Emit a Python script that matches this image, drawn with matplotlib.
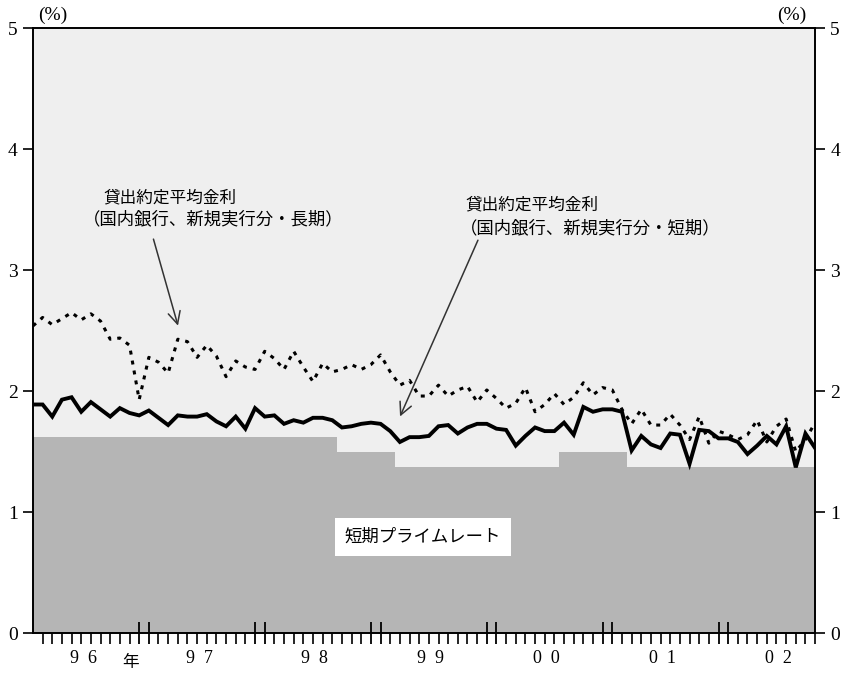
import numpy as np
import matplotlib.pyplot as plt

# monthly data, Jan 1996 - Oct 2002
long_rate = [2.54, 2.61, 2.55, 2.60, 2.65, 2.59, 2.64, 2.58, 2.43, 2.44, 2.38, 1.93,
             2.28, 2.24, 2.15, 2.43, 2.41, 2.28, 2.38, 2.29, 2.12, 2.25, 2.20, 2.18,
             2.33, 2.27, 2.18, 2.33, 2.20, 2.08, 2.23, 2.16, 2.18, 2.22, 2.18, 2.22,
             2.30, 2.16, 2.05, 2.09, 1.96, 1.96, 2.05, 1.96, 2.01, 2.04, 1.91, 2.01,
             1.94, 1.86, 1.90, 2.03, 1.83, 1.89, 1.98, 1.89, 1.95, 2.07, 1.97, 2.03,
             2.01, 1.85, 1.73, 1.85, 1.72, 1.72, 1.81, 1.72, 1.60, 1.79, 1.57, 1.67,
             1.64, 1.60, 1.64, 1.76, 1.58, 1.71, 1.77, 1.50, 1.60, 1.74]
short_rate = [1.89, 1.89, 1.79, 1.93, 1.95, 1.83, 1.91, 1.85, 1.79, 1.86, 1.82, 1.80,
              1.84, 1.78, 1.72, 1.80, 1.79, 1.79, 1.81, 1.75, 1.71, 1.79, 1.69, 1.86,
              1.79, 1.80, 1.73, 1.76, 1.74, 1.78, 1.78, 1.76, 1.70, 1.71, 1.73, 1.74,
              1.73, 1.67, 1.58, 1.62, 1.62, 1.63, 1.71, 1.72, 1.65, 1.70, 1.73, 1.73,
              1.69, 1.68, 1.55, 1.63, 1.70, 1.67, 1.67, 1.74, 1.64, 1.87, 1.83, 1.85,
              1.85, 1.83, 1.51, 1.63, 1.56, 1.53, 1.65, 1.64, 1.40, 1.68, 1.67, 1.61,
              1.61, 1.58, 1.48, 1.55, 1.63, 1.56, 1.71, 1.37, 1.65, 1.53]
prime_rate = [1.625] * 32 + [1.5] * 6 + [1.375] * 17 + [1.5] * 7 + [1.375] * 20
year_labels = ['9  6', '9  7', '9  8', '9  9', '0  0', '0  1', '0  2']

months = np.arange(len(short_rate))
serif = ['Liberation Serif', 'Noto Sans CJK JP']
jp = ['Noto Sans CJK JP', 'DejaVu Sans']

fig = plt.figure(figsize=(8.45, 6.75), dpi=100)
ax = fig.add_axes([0.039, 0.0622, 0.9256, 0.8956])
ax.set_facecolor('#efefef')

ax.fill_between(months, 0, prime_rate, step='mid', color='#b5b5b5', lw=0)
ax.plot(months, long_rate, color='black', lw=2.2, ls=(0, (1.3, 2.0)))
ax.plot(months, short_rate, color='black', lw=2.8, solid_joinstyle='miter')

ax.set_xlim(0, len(months) - 1)
ax.set_ylim(0, 5)

for s in ax.spines.values():
    s.set_linewidth(1.4)

# y axis on both sides
ax.set_yticks(range(6))
ax.tick_params(axis='y', direction='out', length=7, width=1.2, labelsize=14,
               right=True, labelright=True, pad=4)
for lab in ax.get_yticklabels():
    lab.set_family(serif)

# month ticks, double tall ticks at year boundaries
big = [m for m in months if m % 12 in (11, 0) and m > 0]
small = [m for m in months[1:] if m not in big]
ax.set_xticks(big)
ax.set_xticks(small, minor=True)
ax.tick_params(axis='x', which='major', direction='inout', length=16, width=1.3,
               labelbottom=False)
ax.tick_params(axis='x', which='minor', direction='out', length=8, width=1.2)

for i, lab in enumerate(year_labels):
    ax.annotate(lab, xy=(5.2 + 12 * i, 0), xycoords=('data', 'axes fraction'),
                xytext=(0, -18), textcoords='offset points', ha='center', va='center',
                fontsize=13, family=serif)
ax.annotate('年', xy=(10.1, 0), xycoords=('data', 'axes fraction'),
            xytext=(0, -21), textcoords='offset points', ha='center', va='center',
            fontsize=12, family=jp)

fig.text(38 / 845, 1 - 15 / 675, '(%)', fontsize=14, family=serif, va='center')
fig.text(806 / 845, 1 - 15 / 675, '(%)', fontsize=14, family=serif, va='center',
         ha='right')

# annotations
ax.text(7.3, 3.60, '貸出約定平均金利', fontsize=12, family=jp, va='center')
ax.text(5.2, 3.42, '（国内銀行、新規実行分・長期）', fontsize=12.5, family=jp, va='center')
ax.annotate('', xy=(15.1, 2.52), xytext=(12.4, 3.28),
            arrowprops=dict(arrowstyle='->', color='#333333', lw=1.1, mutation_scale=22))

ax.text(44.8, 3.54, '貸出約定平均金利', fontsize=12, family=jp, va='center')
ax.text(44.2, 3.35, '（国内銀行、新規実行分・短期）', fontsize=12.5, family=jp, va='center')
ax.annotate('', xy=(37.9, 1.77), xytext=(46.2, 3.27),
            arrowprops=dict(arrowstyle='->', color='#333333', lw=1.1, mutation_scale=22))

ax.text(40.4, 0.795, '短期プライムレート', fontsize=12.5, family=jp, ha='center',
        va='center', bbox=dict(facecolor='white', edgecolor='none', pad=7))

fig.savefig('out.png', dpi=100)
